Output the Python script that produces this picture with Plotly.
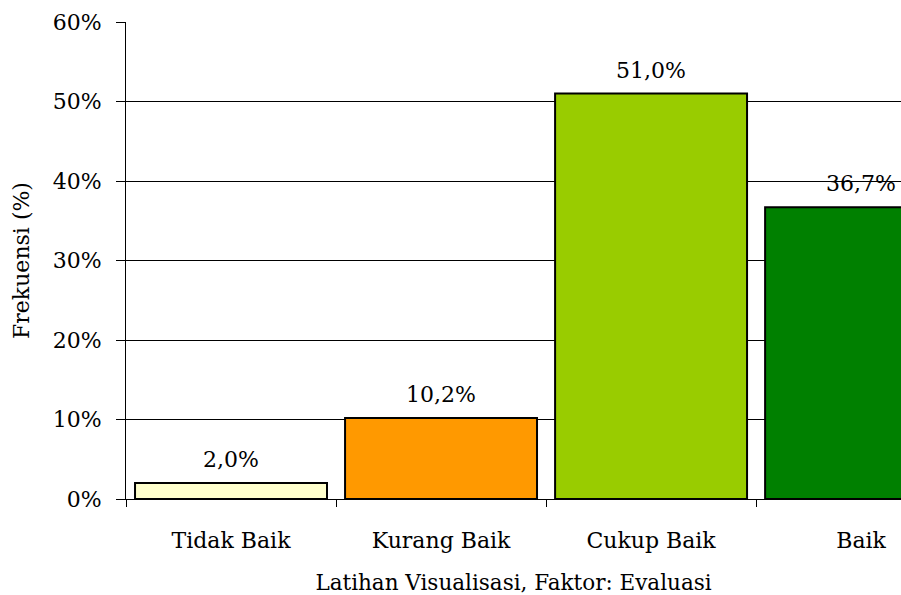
import plotly.graph_objects as go

# Frequency distribution of evaluation scores
categories = ["Tidak Baik", "Kurang Baik", "Cukup Baik", "Baik"]
values = [2.0, 10.2, 51.0, 36.7]
bar_colors = ["#FFFFCC", "#FF9900", "#99CC00", "#008000"]
y_ticks = [0, 10, 20, 30, 40, 50, 60]
y_tick_text = [f"{v}%" for v in y_ticks]
value_labels = [f"{v:.1f}%".replace(".", ",") for v in values]

FONT = "DejaVu Serif"

fig = go.Figure(
    go.Bar(
        x=categories,
        y=values,
        width=0.914,
        marker=dict(color=bar_colors, line=dict(color="black", width=2)),
        hoverinfo="skip",
    )
)

for cat, val, lab in zip(categories, values, value_labels):
    fig.add_annotation(
        x=cat, y=val, text=lab, showarrow=False,
        yanchor="bottom", yshift=9,
        font=dict(family=FONT, size=22, color="black"),
    )

fig.update_layout(
    width=901, height=595,
    margin=dict(l=126, r=0, t=22, b=96),
    plot_bgcolor="white", paper_bgcolor="white",
    showlegend=False,
    font=dict(family=FONT, size=22, color="black"),
)

fig.update_xaxes(
    type="category",
    range=[-0.5, 3.19],
    tickson="boundaries",
    ticks="outside", ticklen=7, tickcolor="black", tickwidth=1,
    showline=True, linecolor="black", linewidth=1,
    showgrid=False,
    ticklabelstandoff=22,
    title=dict(text="Latihan Visualisasi, Faktor: Evaluasi", standoff=23,
               font=dict(family=FONT, size=21.5)),
)

fig.update_yaxes(
    range=[0, 60],
    tickvals=y_ticks, ticktext=y_tick_text,
    ticks="outside", ticklen=9, tickcolor="black", tickwidth=1,
    showline=True, linecolor="black", linewidth=1,
    showgrid=True, gridcolor="black", gridwidth=1,
    zeroline=False,
    ticklabelstandoff=10,
    title=dict(text="Frekuensi (%)", standoff=16, font=dict(family=FONT, size=22)),
)

fig.write_html("out.html", config={"displayModeBar": False})
